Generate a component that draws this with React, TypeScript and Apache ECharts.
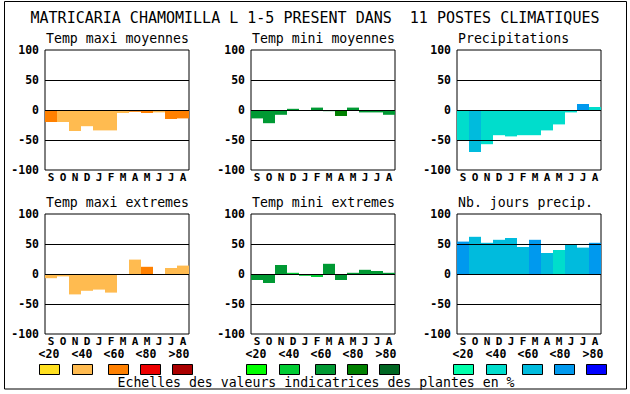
import React, { useEffect, useRef } from "react";
import * as echarts from "echarts";

const months = ["S", "O", "N", "D", "J", "F", "M", "A", "M", "J", "J", "A"];
const classLabels = ["<20", "<40", "<60", "<80", ">80"];

const warmColors = ["#FFE020", "#FFBB50", "#FF8000", "#EE0000", "#AA0000"];
const greenColors = ["#00FF00", "#00CC33", "#009933", "#008000", "#006622"];
const blueColors = ["#00FFAA", "#00DDCC", "#00BBDD", "#0099EE", "#0000FF"];

const tmaxMoyValues = [-20, -20, -35, -27, -34, -34, -5, -3, -5, -4, -15, -14];
const tmaxMoyClasses = [2, 1, 1, 1, 1, 1, 1, 2, 2, 1, 2, 2];

const tminMoyValues = [-14, -22, -8, 2, 0, 4, -2, -10, 4, -4, -4, -8];
const tminMoyClasses = [2, 2, 2, 2, 2, 2, 2, 3, 2, 2, 2, 2];

const precipValues = [-50, -70, -57, -42, -44, -42, -42, -34, -24, -4, 10, 5];
const precipClasses = [1, 2, 1, 1, 1, 1, 1, 1, 1, 1, 3, 1];

const tmaxExtValues = [-7, -4, -34, -28, -26, -31, 0, 24, 12, 0, 10, 14];
const tmaxExtClasses = [1, 1, 1, 1, 1, 1, 1, 1, 2, 1, 1, 1];

const tminExtValues = [-10, -15, 15, 2, -3, -5, 17, -10, 2, 7, 5, 2];
const tminExtClasses = [2, 2, 2, 1, 1, 1, 2, 2, 2, 2, 2, 2];

const nbJoursValues = [54, 62, 52, 57, 60, 45, 57, 35, 40, 49, 44, 52];
const nbJoursClasses = [3, 2, 2, 2, 2, 2, 3, 2, 1, 2, 2, 3];

const mainTitle = "MATRICARIA CHAMOMILLA L 1-5 PRESENT DANS  11 POSTES CLIMATIQUES";
const footer = "Echelles des valeurs indicatrices des plantes en %";

const MONO = '"DejaVu Sans Mono", "Liberation Mono", monospace';

const panels = [
  { title: "Temp maxi moyennes", values: tmaxMoyValues, classes: tmaxMoyClasses, palette: warmColors, col: 0, row: 0 },
  { title: "Temp mini moyennes", values: tminMoyValues, classes: tminMoyClasses, palette: greenColors, col: 1, row: 0 },
  { title: "Precipitations", values: precipValues, classes: precipClasses, palette: blueColors, col: 2, row: 0 },
  { title: "Temp maxi extremes", values: tmaxExtValues, classes: tmaxExtClasses, palette: warmColors, col: 0, row: 1 },
  { title: "Temp mini extremes", values: tminExtValues, classes: tminExtClasses, palette: greenColors, col: 1, row: 1 },
  { title: "Nb. jours precip.", values: nbJoursValues, classes: nbJoursClasses, palette: blueColors, col: 2, row: 1 },
];

const colLefts = [45, 251, 457];
const rowTops = [50, 214];
const plotW = 144;
const plotH = 120;

export default function App() {
  const ref = useRef<HTMLDivElement>(null);

  useEffect(() => {
    if (!ref.current) return;
    const chart = echarts.init(ref.current, undefined, { renderer: "svg" });

    const grids: any[] = [];
    const xAxes: any[] = [];
    const yAxes: any[] = [];
    const series: any[] = [];
    const graphics: any[] = [];

    panels.forEach((p, i) => {
      const left = colLefts[p.col];
      const top = rowTops[p.row];
      grids.push({
        left,
        top,
        width: plotW,
        height: plotH,
        show: true,
        borderColor: "#000",
        borderWidth: 1,
        backgroundColor: "#fff",
        containLabel: false,
      });
      xAxes.push({
        type: "category",
        gridIndex: i,
        data: months,
        boundaryGap: true,
        axisLine: { show: false },
        axisTick: { show: false },
        splitLine: { show: false },
        axisLabel: {
          interval: 0,
          margin: 2,
          color: "#000",
          fontFamily: MONO,
          fontWeight: "bold",
          fontSize: 11,
        },
      });
      yAxes.push({
        type: "value",
        gridIndex: i,
        min: -100,
        max: 100,
        interval: 50,
        axisLine: { show: false },
        axisTick: { show: false },
        splitLine: { show: false },
        axisLabel: {
          margin: 6,
          color: "#000",
          fontFamily: MONO,
          fontWeight: "bold",
          fontSize: 11.5,
        },
      });
      series.push({
        type: "bar",
        xAxisIndex: i,
        yAxisIndex: i,
        barCategoryGap: 0,
        data: p.values.map((v, k) => ({
          value: v,
          itemStyle: { color: p.palette[p.classes[k]] },
        })),
        markLine: {
          silent: true,
          symbol: ["none", "none"],
          label: { show: false },
          lineStyle: { color: "#000", width: 1, type: "solid" },
          data: [{ yAxis: 50 }, { yAxis: 0 }, { yAxis: -50 }],
        },
      });
      graphics.push({
        type: "text",
        x: left + 1,
        y: top - 12,
        style: {
          text: p.title,
          fill: "#000",
          font: `13.2px ${MONO}`,
          textAlign: "left",
          textVerticalAlign: "middle",
        },
      });
    });

    // outer frame
    graphics.unshift({
      type: "rect",
      shape: { x: 4.5, y: 1.5, width: 622, height: 387.5 },
      style: { fill: "none", stroke: "#000", lineWidth: 1 },
    });

    graphics.push({
      type: "text",
      x: 315,
      y: 18,
      style: {
        text: mainTitle,
        fill: "#000",
        font: `15px ${MONO}`,
        textAlign: "center",
        textVerticalAlign: "middle",
      },
    });

    const groupStarts = [39, 246, 453];
    const textOffsets = [10, 43, 75, 107, 140];
    const swatchOffsets = [0, 33, 69, 101, 133];
    const palettes = [warmColors, greenColors, blueColors];
    groupStarts.forEach((g, gi) => {
      classLabels.forEach((lab, k) => {
        graphics.push({
          type: "text",
          x: g + textOffsets[k],
          y: 354,
          style: {
            text: lab,
            fill: "#000",
            font: `bold 11.5px ${MONO}`,
            textAlign: "center",
            textVerticalAlign: "middle",
          },
        });
        graphics.push({
          type: "rect",
          shape: { x: g + swatchOffsets[k] + 0.5, y: 364.5, width: 20, height: 10 },
          style: { fill: palettes[gi][k], stroke: "#000", lineWidth: 1 },
        });
      });
    });

    graphics.push({
      type: "text",
      x: 316,
      y: 382,
      style: {
        text: footer,
        fill: "#000",
        font: `13.2px ${MONO}`,
        textAlign: "center",
        textVerticalAlign: "middle",
      },
    });

    chart.setOption({
      animation: false,
      backgroundColor: "#fff",
      grid: grids,
      xAxis: xAxes,
      yAxis: yAxes,
      series,
      graphic: graphics,
    });

    return () => {
      chart.dispose();
    };
  }, []);

  return (
    <div
      ref={ref}
      style={{ position: "absolute", left: 0, top: 0, width: 630, height: 394, background: "#fff" }}
    />
  );
}
